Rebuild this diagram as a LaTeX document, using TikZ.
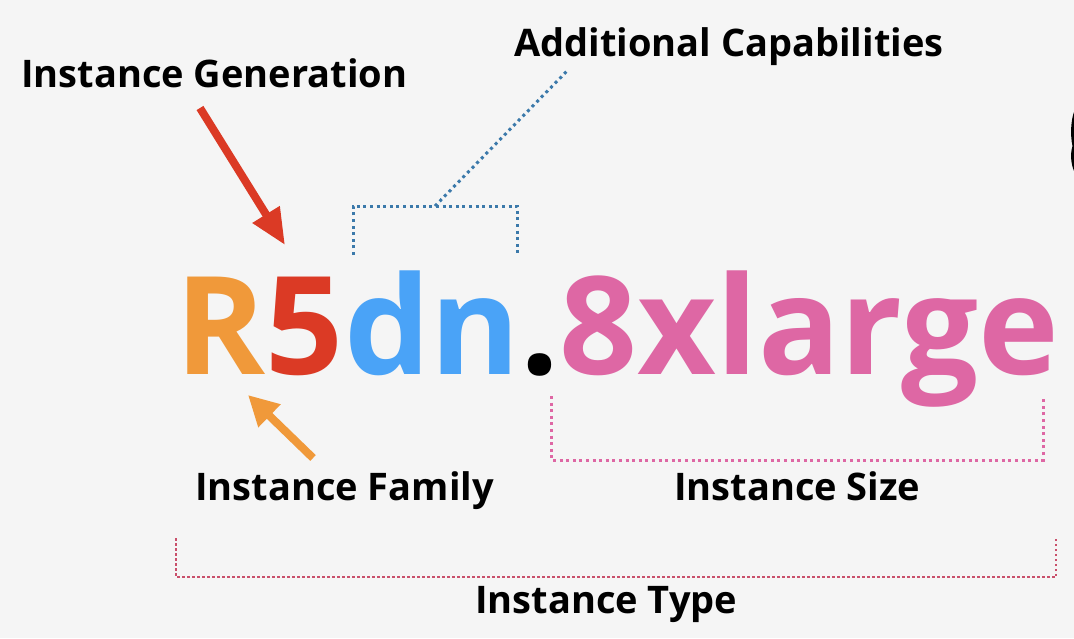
\documentclass[tikz,border=0pt]{standalone}
\usepackage{fontspec}
\setmainfont{Open Sans}
\usepackage{tikz}
\usetikzlibrary{arrows.meta,positioning}
\definecolor{Bg}{HTML}{F5F5F5}
\definecolor{Fam}{HTML}{F0993A}
\definecolor{Gen}{HTML}{DB3A25}
\definecolor{Cap}{HTML}{4AA3F7}
\definecolor{CapDots}{HTML}{3B79AA}
\definecolor{Size}{HTML}{DE67A4}
\definecolor{TypeDots}{HTML}{C9506B}
\tikzset{
  big/.style={inner sep=0pt,anchor=base west,font=\fontsize{136.5}{136.5}\selectfont\bfseries},
  lbl/.style={inner sep=0pt,anchor=base west,font=\fontsize{38}{38}\selectfont\bfseries},
  dots/.style={line width=3pt,dash pattern=on 3pt off 3.6pt}
}

\begin{document}
\begin{tikzpicture}[x=1pt,y=-1pt]
      \fill[Bg](0,0)rectangle(1074,638);
      \useasboundingbox(0,0)rectangle(1074,638);
      % the type name
      \node[big,Fam](fam)at(175,374){R};
      \node[big,Gen](gen)at(fam.base east){5};
      \node[big,Cap](cap)at(gen.base east){dn};
      \node[big](dot)at(cap.base east){.};
      \node[big,Size](size)at(dot.base east){8xlarge};
      % labels
      \node[lbl](genlbl)at(21,87){Instance Generation};
      \node[lbl](caplbl)at(514,56){Additional Capabilities};
      \node[lbl](famlbl)at(195,500){Instance Family};
      \node[lbl](sizelbl)at(674,500){Instance Size};
      \node[lbl](typelbl)at(475,613){Instance Type};
      % arrows
      \coordinate(gentail)at(200,108);
      \coordinate(famtail)at(313,458);
      \draw[Gen,line width=8pt,-{Triangle[length=36pt,width=30pt]}](gentail)--(285,245);
      \draw[Fam,line width=8pt,-{Triangle[length=30pt,width=30pt]}](famtail)--(248,395);
      % brackets
      \draw[dots,CapDots](353,255)--(353,206)--(517,206)--(517,255);
      \draw[dots,CapDots](435,206)--(568,70);
      \draw[dots,Size](551,396)--(551,460)--(1043,460)--(1043,396);
      \draw[TypeDots,line width=2.5pt,dash pattern=on 2.5pt off 2.5pt](176,538)--(176,577)--(1056,577)--(1056,538);
      % cut-off glyph at the edge
      \fill(1074,112)..controls(1071,120)and(1070,135)..(1072.5,146)
        ..controls(1070,154)and(1071,164)..(1074,171)--cycle;
    \end{tikzpicture}
\end{document}
